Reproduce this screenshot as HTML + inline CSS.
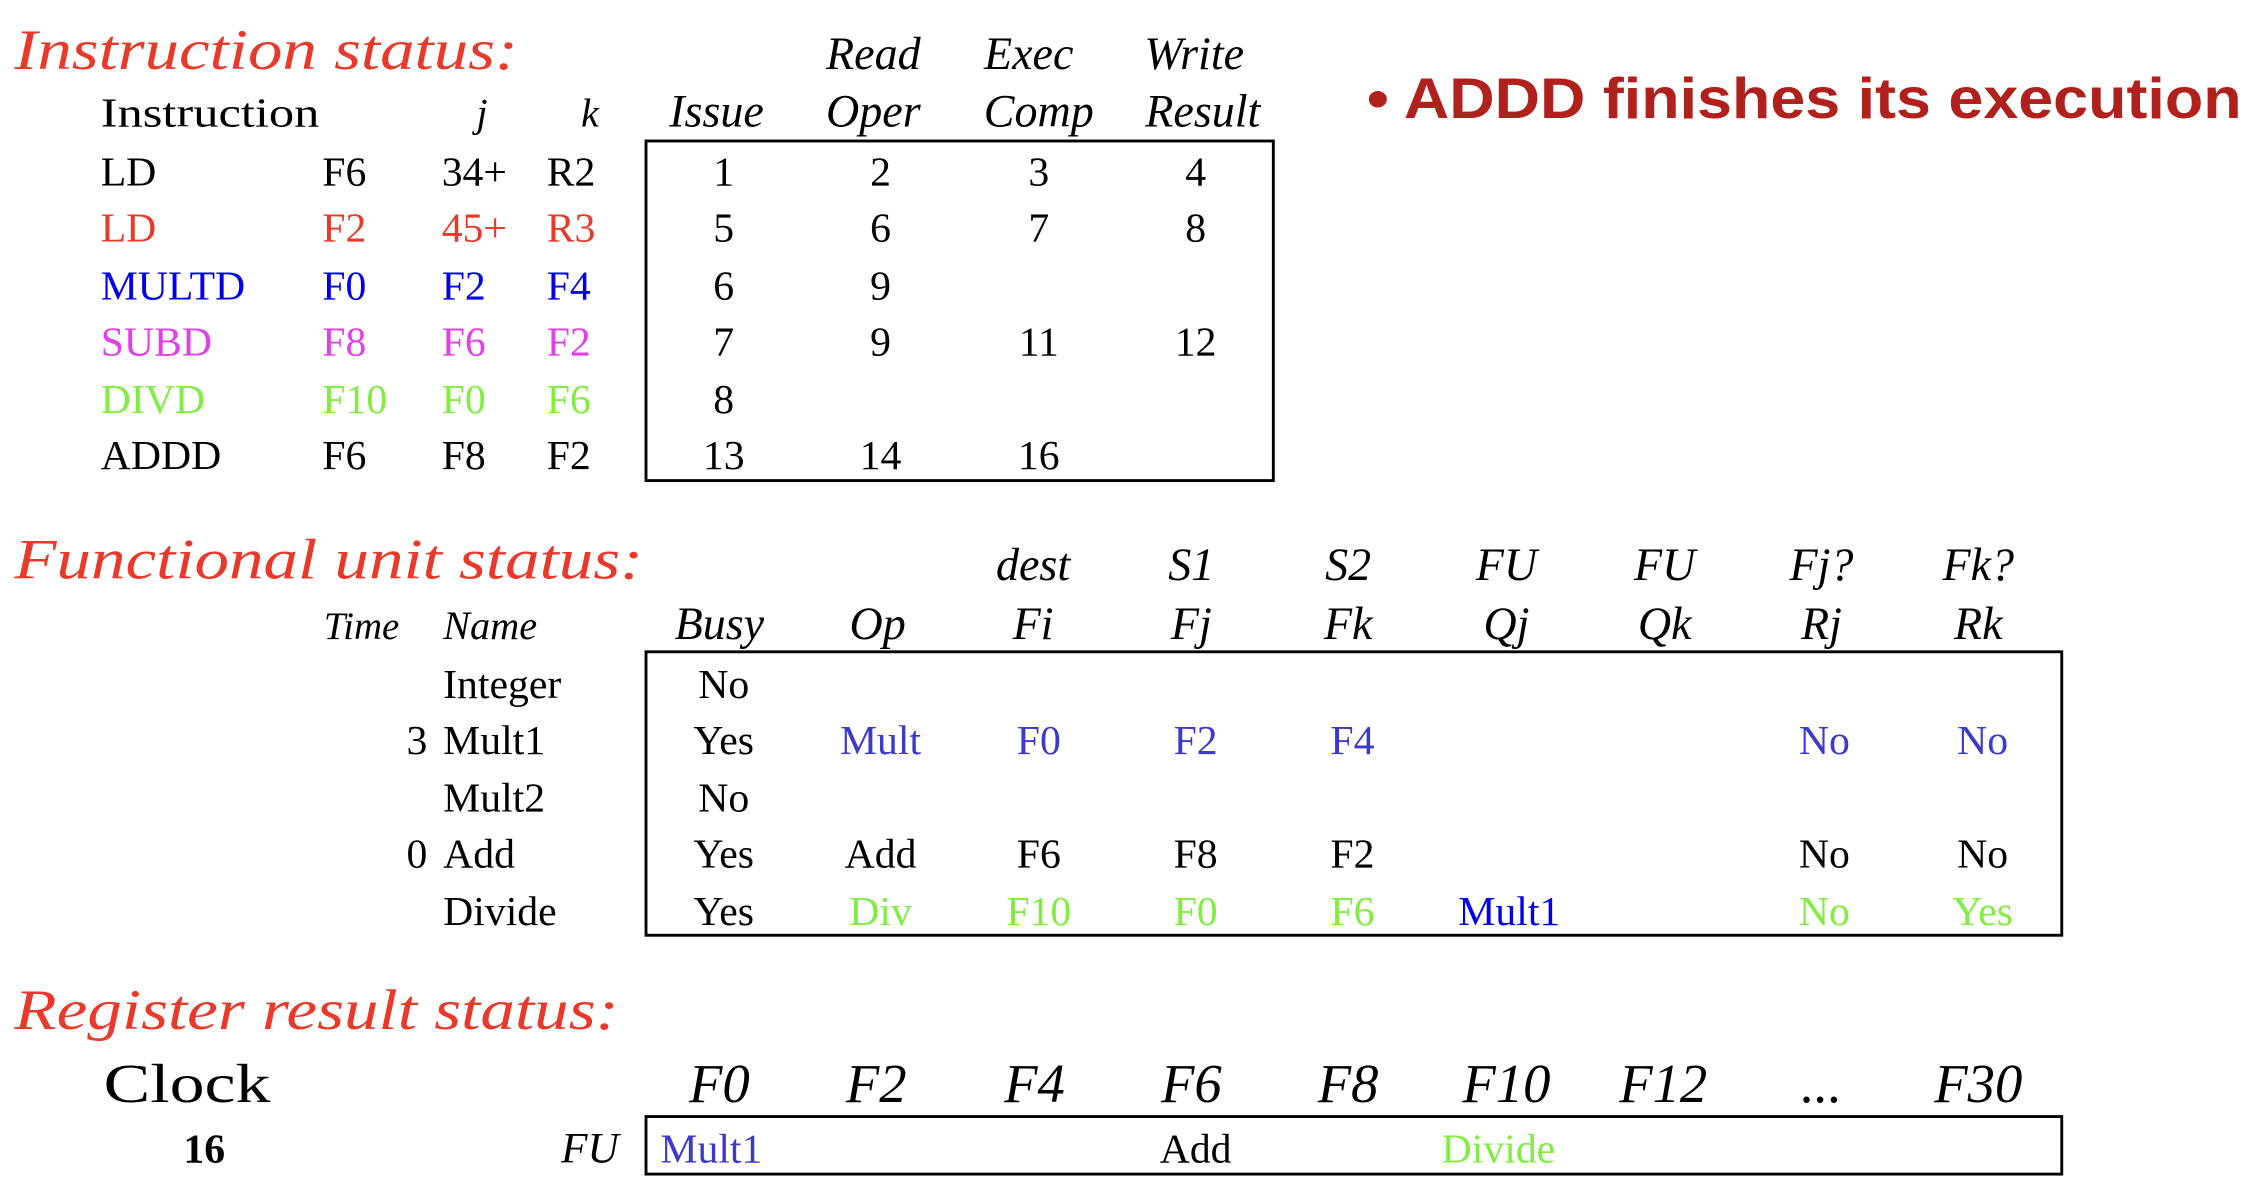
<!DOCTYPE html>
<html><head><meta charset="utf-8"><style>
html,body{margin:0;padding:0;background:#fff;width:2256px;height:1200px;overflow:hidden}
svg{display:block}
text{font-family:"Liberation Serif",serif;font-size:29px;fill:#000}
.t{font-style:italic;fill:#e8392a;font-size:40px}
.h{font-style:italic;font-size:32px}
.c{text-anchor:middle}
.r{fill:#e8392a}.b{fill:#0000ee}.m{fill:#e040e8}.g{fill:#80ee40}.lb{fill:#3a3acc}
</style></head><body>
<svg width="2256" height="1200" viewBox="0 0 1568 834" preserveAspectRatio="none">
<text class="t" x="10" y="48" textLength="350" lengthAdjust="spacingAndGlyphs">Instruction status:</text>
<g class="h">
<text class="h c" x="607" y="48">Read</text><text class="h c" x="715" y="48">Exec</text><text class="h c" x="830" y="48">Write</text>
<text class="h c" x="498" y="88">Issue</text><text class="h c" x="607" y="88">Oper</text><text class="h c" x="722" y="88">Comp</text><text class="h c" x="836" y="88">Result</text>
<text class="h c" x="335" y="88" style="font-size:28px">j</text><text class="h c" x="410" y="88" style="font-size:28px">k</text>
</g>
<text x="70" y="88" textLength="152" lengthAdjust="spacingAndGlyphs">Instruction</text>
<rect x="449" y="98" width="436" height="236" fill="none" stroke="#000" stroke-width="2"/>
<g>
<text x="70" y="129">LD</text><text x="224" y="129">F6</text><text x="307" y="129">34+</text><text x="380" y="129">R2</text>
<text class="r" x="70" y="168">LD</text><text class="r" x="224" y="168">F2</text><text class="r" x="307" y="168">45+</text><text class="r" x="380" y="168">R3</text>
<text class="b" x="70" y="208">MULTD</text><text class="b" x="224" y="208">F0</text><text class="b" x="307" y="208">F2</text><text class="b" x="380" y="208">F4</text>
<text class="m" x="70" y="247">SUBD</text><text class="m" x="224" y="247">F8</text><text class="m" x="307" y="247">F6</text><text class="m" x="380" y="247">F2</text>
<text class="g" x="70" y="287">DIVD</text><text class="g" x="224" y="287">F10</text><text class="g" x="307" y="287">F0</text><text class="g" x="380" y="287">F6</text>
<text x="70" y="326">ADDD</text><text x="224" y="326">F6</text><text x="307" y="326">F8</text><text x="380" y="326">F2</text>
</g>
<g class="c">
<text class="c" x="503" y="129">1</text><text class="c" x="612" y="129">2</text><text class="c" x="722" y="129">3</text><text class="c" x="831" y="129">4</text>
<text class="c" x="503" y="168">5</text><text class="c" x="612" y="168">6</text><text class="c" x="722" y="168">7</text><text class="c" x="831" y="168">8</text>
<text class="c" x="503" y="208">6</text><text class="c" x="612" y="208">9</text>
<text class="c" x="503" y="247">7</text><text class="c" x="612" y="247">9</text><text class="c" x="722" y="247">11</text><text class="c" x="831" y="247">12</text>
<text class="c" x="503" y="287">8</text>
<text class="c" x="503" y="326">13</text><text class="c" x="612" y="326">14</text><text class="c" x="722" y="326">16</text>
</g>
<text x="950" y="82" style="font-family:'Liberation Sans',sans-serif;font-weight:bold;font-size:40px;fill:#b0201c" textLength="608" lengthAdjust="spacingAndGlyphs">• ADDD finishes its execution</text>

<text class="t" x="10" y="402" textLength="437" lengthAdjust="spacingAndGlyphs">Functional unit status:</text>
<text class="h c" x="718" y="403">dest</text><text class="h c" x="828" y="403">S1</text><text class="h c" x="937" y="403">S2</text><text class="h c" x="1047" y="403">FU</text><text class="h c" x="1157" y="403">FU</text><text class="h c" x="1266" y="403">Fj?</text><text class="h c" x="1375" y="403">Fk?</text>
<text class="h" x="225" y="444" style="font-size:27px">Time</text><text class="h" x="308" y="444" style="font-size:28px">Name</text>
<text class="h c" x="500" y="444">Busy</text><text class="h c" x="610" y="444">Op</text><text class="h c" x="718" y="444">Fi</text><text class="h c" x="828" y="444">Fj</text><text class="h c" x="937" y="444">Fk</text><text class="h c" x="1047" y="444">Qj</text><text class="h c" x="1157" y="444">Qk</text><text class="h c" x="1266" y="444">Rj</text><text class="h c" x="1375" y="444">Rk</text>
<rect x="449" y="453" width="984" height="197" fill="none" stroke="#000" stroke-width="2"/>
<text x="308" y="485">Integer</text><text x="308" y="524">Mult1</text><text x="308" y="564">Mult2</text><text x="308" y="603">Add</text><text x="308" y="643">Divide</text>
<text x="297" y="524" style="text-anchor:end">3</text><text x="297" y="603" style="text-anchor:end">0</text>
<text class="c" x="503" y="485">No</text>
<text class="c" x="503" y="524">Yes</text><text class="c lb" x="612" y="524">Mult</text><text class="c lb" x="722" y="524">F0</text><text class="c lb" x="831" y="524">F2</text><text class="c lb" x="940" y="524">F4</text><text class="c lb" x="1268" y="524">No</text><text class="c lb" x="1378" y="524">No</text>
<text class="c" x="503" y="564">No</text>
<text class="c" x="503" y="603">Yes</text><text class="c" x="612" y="603">Add</text><text class="c" x="722" y="603">F6</text><text class="c" x="831" y="603">F8</text><text class="c" x="940" y="603">F2</text><text class="c" x="1268" y="603">No</text><text class="c" x="1378" y="603">No</text>
<text class="c" x="503" y="643">Yes</text><text class="c g" x="612" y="643">Div</text><text class="c g" x="722" y="643">F10</text><text class="c g" x="831" y="643">F0</text><text class="c g" x="940" y="643">F6</text><text class="c b" x="1049" y="643">Mult1</text><text class="c g" x="1268" y="643">No</text><text class="c g" x="1378" y="643">Yes</text>

<text class="t" x="10" y="715" textLength="420" lengthAdjust="spacingAndGlyphs">Register result status:</text>
<text x="72" y="766" style="font-size:38px" textLength="116" lengthAdjust="spacingAndGlyphs">Clock</text>
<g>
<text class="h c" x="500" y="766" style="font-size:38px">F0</text><text class="h c" x="609" y="766" style="font-size:38px">F2</text><text class="h c" x="719" y="766" style="font-size:38px">F4</text><text class="h c" x="828" y="766" style="font-size:38px">F6</text><text class="h c" x="937" y="766" style="font-size:38px">F8</text><text class="h c" x="1047" y="766" style="font-size:38px">F10</text><text class="h c" x="1156" y="766" style="font-size:38px">F12</text><text class="h c" x="1266" y="766" style="font-size:38px">...</text><text class="h c" x="1375" y="766" style="font-size:38px">F30</text>
</g>
<text class="c" x="142" y="808" style="font-weight:bold">16</text>
<text class="h" x="430" y="808" style="text-anchor:end;font-size:30px">FU</text>
<rect x="449" y="776" width="984" height="40" fill="none" stroke="#000" stroke-width="2"/>
<text class="lb" x="459" y="808">Mult1</text><text class="c" x="831" y="808">Add</text><text class="g" x="1002" y="808">Divide</text>
</svg>
</body></html>
